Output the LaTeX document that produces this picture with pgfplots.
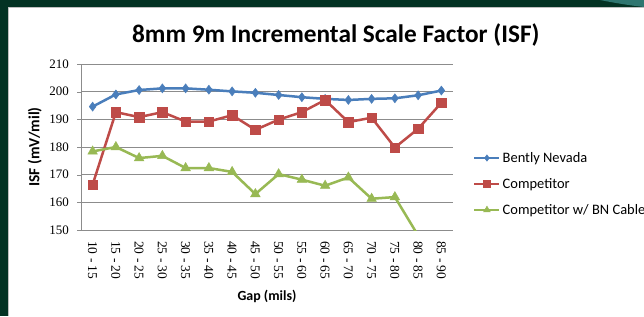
\documentclass[border=0pt]{standalone}
\usepackage{fontspec}
\setmainfont{Carlito}
\newfontfamily\tickfont{Liberation Serif}
\usepackage{pgfplots}
\pgfplotsset{compat=1.18}
\definecolor{bg}{RGB}{3,50,35}
\definecolor{bnblue}{RGB}{74,126,187}
\definecolor{compred}{RGB}{190,75,72}
\definecolor{compgreen}{RGB}{152,185,84}
\definecolor{gridgray}{RGB}{140,140,140}
\begin{document}
\begin{tikzpicture}[x=1bp,y=1bp]
\useasboundingbox (0,0) rectangle (644,316);
\clip (0,0) rectangle (644,316);
\fill[bg] (0,0) rectangle (644,316);
\fill[bg!70!white!60!teal] (600,316) .. controls (620,312) and (635,310) .. (644,309) -- (644,316) -- cycle;
\fill[white] (8,0) rectangle (644,309);
\draw[gray!50, line width=0.8bp] (8.4,0) -- (8.4,308.6) -- (644,308.6);
\begin{axis}[
  at={(81bp,86bp)}, anchor=south west,
  scale only axis, width=372bp, height=166bp,
  xmin=-0.5, xmax=15.5, ymin=150, ymax=210,
  xtick={0,...,15},
  xticklabels={10 - 15,15 - 20,20 - 25,25 - 30,30 - 35,35 - 40,40 - 45,45 - 50,50 - 55,55 - 60,60 - 65,65 - 70,70 - 75,75 - 80,80 - 85,85 - 90},
  xticklabel style={rotate=-90, anchor=west, font=\tickfont\fontsize{13.5}{15}\selectfont, inner sep=0pt, xshift=7bp},
  x tick style={draw=none},
  ytick={150,160,...,210},
  /pgf/number format/assume math mode=true,
  yticklabel style={font=\tickfont\fontsize{13}{15}\selectfont, inner sep=0pt, xshift=-8bp},
  y tick style={gridgray},
  tick align=outside, major tick length=4bp,
  ymajorgrids, grid style={gridgray, line width=0.8bp},
  axis x line*=bottom, axis y line*=left,
  axis line style={gridgray, line width=0.8bp, -},
  xlabel={\textbf{Gap (mils)}},
  xlabel style={at={(axis description cs:0.5,-0.398)}, anchor=center, font=\fontsize{14}{16}\selectfont},
  ylabel={\textbf{ISF (mV/mil)}},
  ylabel style={at={(axis description cs:-0.124,0.5)}, anchor=center, rotate=0, font=\fontsize{15.5}{18}\selectfont},
  title={\textbf{8mm 9m Incremental Scale Factor (ISF)}},
  title style={at={(axis description cs:0.685,1.139)}, anchor=center, font=\fontsize{25.4}{29}\selectfont},
  legend style={at={(axis description cs:1,0.277)}, anchor=west, xshift=20bp, draw=none, fill=none,
    font=\fontsize{14.5}{17}\selectfont, row sep=10.5bp, inner sep=0pt,
    nodes={inner sep=2bp}},
  legend cell align=left,
  legend image code/.code={\draw[mark repeat=2,mark phase=2,#1,every mark/.append style={scale=0.7}] plot coordinates {(0bp,0bp) (12.5bp,0bp) (25bp,0bp)};},
  every axis plot/.append style={line width=2.5bp},
]
\addplot[bnblue, mark=diamond*, mark size=4.5bp, mark options={solid, line width=0.5bp}] coordinates {
(0,194.6) (1,199.0) (2,200.6) (3,201.2) (4,201.2) (5,200.7) (6,200.1) (7,199.6)
(8,198.8) (9,198.0) (10,197.4) (11,197.0) (12,197.4) (13,197.6) (14,198.7) (15,200.4)};
\addlegendentry{Bently Nevada}
\addplot[compred, mark=square*, mark size=4.8bp, mark options={solid, line width=0.5bp}] coordinates {
(0,166.4) (1,192.6) (2,190.8) (3,192.6) (4,189.2) (5,189.2) (6,191.5) (7,186.2)
(8,189.9) (9,192.6) (10,197.0) (11,189.0) (12,190.6) (13,179.8) (14,186.6) (15,196.0)};
\addlegendentry{Competitor}
\addplot[compgreen, mark=triangle*, mark size=5.5bp, mark options={solid, line width=0.5bp}] coordinates {
(0,178.4) (1,180.0) (2,176.0) (3,176.8) (4,172.4) (5,172.4) (6,171.0) (7,163.0)
(8,170.2) (9,168.2) (10,166.0) (11,169.0) (12,161.3) (13,161.9)};
\addlegendentry{Competitor w/ BN Cables}
\addplot[compgreen, no markers, forget plot] coordinates {(13,161.9) (14,148.0)};
\end{axis}
\end{tikzpicture}
\end{document}
